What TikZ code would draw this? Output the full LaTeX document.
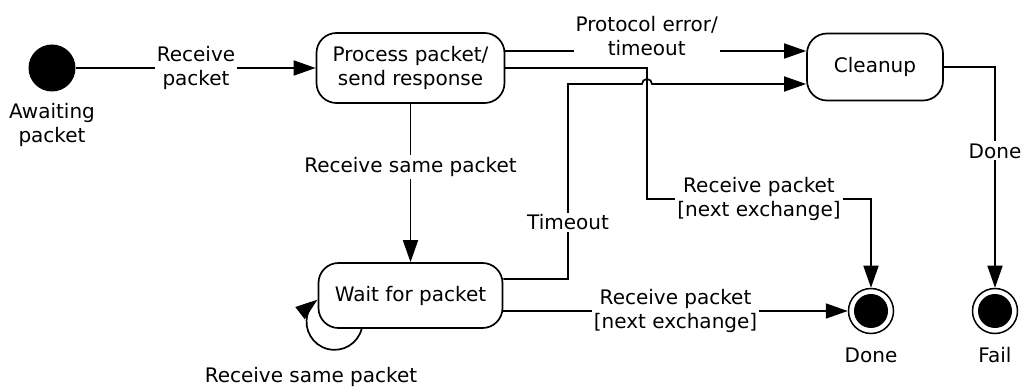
\documentclass[tikz,border=0pt]{standalone}
\usepackage{fontspec}
\setmainfont{DejaVu Sans}
\usetikzlibrary{arrows.meta,calc}
\begin{document}
\begin{tikzpicture}[x=1pt,y=1pt, line width=1.7pt,
 font=\fontsize{20}{24.5}\selectfont,
 st/.style={draw, rounded corners=20pt, align=center, inner sep=0pt},
 arr/.style={-{Triangle[length=22pt,width=15pt]}},
 lbl/.style={fill=white, inner sep=2pt, align=center},
 plain/.style={inner sep=0pt, align=center},
 endst/.style={circle, draw, line width=1.5pt, minimum size=45pt, inner sep=0pt,
   path picture={\fill[black] (path picture bounding box.center) circle (17pt);}}]
\useasboundingbox (0,0) rectangle (1029,-390);

% states
\node[circle, fill=black, minimum size=47pt, inner sep=0pt] (init) at (52,-68) {};
\node[plain] (initl) at (52,-125) {Awaiting\\packet};
\node[st, minimum width=188pt, minimum height=70pt] (proc) at (410.5,-68) {Process packet/\\send response};
\node[st, minimum width=136pt, minimum height=67pt] (clean) at (875,-67) {Cleanup};
\node[st, minimum width=184pt, minimum height=65pt] (wait) at (410.5,-295.5) {Wait for packet};
\node[endst] (done) at (871,-311) {};
\node[endst] (fail) at (995,-311) {};
\node[plain] (donel) at (871,-355) {Done};
\node[plain] (faill) at (995,-355) {Fail};

% helper coordinates
\coordinate (a51) at (0,-51);
\coordinate (a84) at (0,-84);
\coordinate (a199) at (0,-199);
\coordinate (a279) at (0,-279);
\coordinate (x647) at (647,0);
\coordinate (x568) at (568,0);
\coordinate (hop) at (642,-84);

% transitions
\draw[arr] (init) -- node[lbl] {Receive\\packet} (proc);

\draw[arr] (proc.east |- a51) -- node[lbl, pos=0.47, yshift=15pt] {Protocol error/\\timeout} (clean.west |- a51);

\draw[arr] (proc.east) -- (x647 |- proc.east) -- (x647 |- a199)
  -- node[lbl] {Receive packet\\{}[next exchange]} (done.north |- a199) -- (done.north);

\draw[arr] (wait.east |- a279) -- (x568 |- a279)
  -- node[lbl, pos=0.29] {Timeout} (x568 |- a84) -- (hop)
  arc[start angle=180, end angle=0, radius=5] -- (clean.west |- a84);

\draw[arr] (wait.east |- done) -- node[lbl] {Receive packet\\{}[next exchange]} (done.west);

\draw[arr] (clean.east) -| node[lbl, pos=0.69] {Done} (fail.north);

\draw[arr] (proc.south) -- node[lbl, pos=0.4] {Receive same packet} (wait.north);

\draw[arr] ([xshift=44pt]wait.south west) arc[start angle=-14.5, end angle=-232.3, radius=28];
\node[plain] (loopl) at (311,-377) {Receive same packet};
\end{tikzpicture}
\end{document}
